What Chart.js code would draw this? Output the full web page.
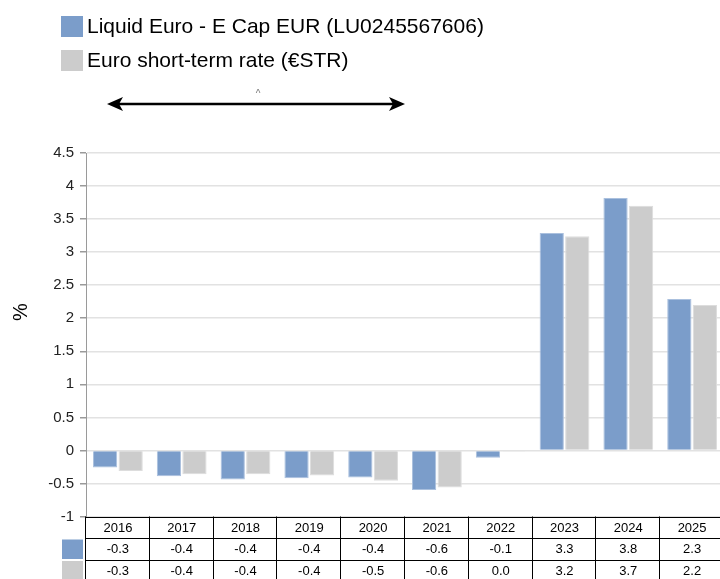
<!DOCTYPE html>
<html>
<head>
<meta charset="utf-8">
<script src="https://cdn.jsdelivr.net/npm/chart.js@4"></script>
<style>
  html, body { margin: 0; padding: 0; background: #fff; overflow: hidden; }
  #wrap { width: 724px; height: 579px; position: relative; }
</style>
</head>
<body>
<div id="wrap"><canvas id="myChart"></canvas></div>
<script>
const years = ['2016', '2017', '2018', '2019', '2020', '2021', '2022', '2023', '2024', '2025'];
const fundReturns = [-0.26, -0.39, -0.44, -0.42, -0.41, -0.60, -0.11, 3.29, 3.82, 2.29];
const estrRates = [-0.31, -0.36, -0.36, -0.38, -0.46, -0.56, -0.01, 3.24, 3.70, 2.20];
const seriesNames = ['Liquid Euro - E Cap EUR (LU0245567606)', 'Euro short-term rate (€STR)'];
const seriesColors = ['#7b9dca', '#cccccc'];
const yTicks = { min: -1, max: 4.5, step: 0.5 };
const yTitle = '%';

const FONT = '"Liberation Sans", Arial, sans-serif';

function fmt(v) {
  return (Math.round(v * 10) / 10 + 0).toFixed(1);
}

// legend, y title and the double arrow on top
const topPlugin = {
  id: 'topPlugin',
  afterDraw(chart) {
    const ctx = chart.ctx;
    ctx.save();
    chart.data.datasets.forEach((ds, i) => {
      const y = 16 + i * 34;
      ctx.fillStyle = ds.backgroundColor;
      ctx.fillRect(61, y, 22, 21);
      ctx.fillStyle = '#000';
      ctx.font = '21px ' + FONT;
      ctx.textBaseline = 'middle';
      ctx.textAlign = 'left';
      ctx.fillText(ds.label, 87, y + 11);
    });

    // y title
    ctx.save();
    ctx.translate(21, 312);
    ctx.rotate(-Math.PI / 2);
    ctx.font = '20px ' + FONT;
    ctx.textAlign = 'center';
    ctx.textBaseline = 'middle';
    ctx.fillText(yTitle, 0, 0);
    ctx.restore();

    // arrow
    ctx.strokeStyle = '#000';
    ctx.fillStyle = '#000';
    ctx.lineWidth = 2.5;
    ctx.beginPath();
    ctx.moveTo(115, 104);
    ctx.lineTo(397, 104);
    ctx.stroke();
    ctx.beginPath();
    ctx.moveTo(107, 104);
    ctx.lineTo(123, 97);
    ctx.lineTo(119, 104);
    ctx.lineTo(123, 111);
    ctx.closePath();
    ctx.fill();
    ctx.beginPath();
    ctx.moveTo(405, 104);
    ctx.lineTo(389, 97);
    ctx.lineTo(393, 104);
    ctx.lineTo(389, 111);
    ctx.closePath();
    ctx.fill();
    ctx.fillStyle = '#777';
    ctx.font = '10px ' + FONT;
    ctx.textAlign = 'center';
    ctx.fillText('^', 258, 94);
    ctx.restore();
  }
};

// data table under the plot
const tablePlugin = {
  id: 'tablePlugin',
  afterDraw(chart) {
    const ctx = chart.ctx;
    const x = chart.scales.x;
    const area = chart.chartArea;
    const n = chart.data.labels.length;
    const w = (area.right - area.left) / n;
    const rowH = 21.5;
    const top = area.bottom;
    ctx.save();
    ctx.strokeStyle = '#000';
    ctx.lineWidth = 1;
    for (let r = 0; r < 3; r++) {
      const y = Math.round(top + r * rowH) + 0.5;
      ctx.beginPath();
      ctx.moveTo(area.left, y);
      ctx.lineTo(area.right, y);
      ctx.stroke();
    }
    for (let i = 0; i <= n; i++) {
      const vx = Math.round(area.left + i * w) - 0.5;
      ctx.beginPath();
      ctx.moveTo(vx, top);
      ctx.lineTo(vx, chart.height);
      ctx.stroke();
    }
    ctx.fillStyle = '#000';
    ctx.font = '13px ' + FONT;
    ctx.textAlign = 'center';
    ctx.textBaseline = 'middle';
    chart.data.labels.forEach((lab, i) => {
      const cx = x.getPixelForValue(i);
      ctx.fillText(lab, cx, top + rowH / 2 + 1);
      chart.data.datasets.forEach((ds, d) => {
        ctx.fillText(fmt(ds.data[i]), cx, top + rowH * (d + 1) + rowH / 2 + 1);
      });
    });
    chart.data.datasets.forEach((ds, d) => {
      ctx.fillStyle = ds.backgroundColor;
      ctx.fillRect(62, top + rowH * (d + 1) + 1.5, 21, rowH - 2);
    });
    ctx.restore();
  }
};

const ctx1 = document.getElementById('myChart').getContext('2d');
const chart1 = new Chart(ctx1, {
  type: 'bar',
  data: {
    labels: years,
    datasets: [
      {
        label: seriesNames[0],
        data: fundReturns,
        backgroundColor: seriesColors[0],
        borderColor: '#aac0de',
        borderWidth: 1,
        categoryPercentage: 0.8,
        barPercentage: 0.95
      },
      {
        label: seriesNames[1],
        data: estrRates,
        backgroundColor: seriesColors[1],
        borderColor: '#dddddd',
        borderWidth: 1,
        categoryPercentage: 0.8,
        barPercentage: 0.95
      }
    ]
  },
  options: {
    responsive: true,
    maintainAspectRatio: false,
    animation: false,
    layout: { padding: { top: 153, bottom: 62.5, left: 0, right: 0 } },
    plugins: {
      legend: { display: false },
      tooltip: { enabled: false }
    },
    scales: {
      x: {
        display: false
      },
      y: {
        min: yTicks.min,
        max: yTicks.max,
        ticks: {
          stepSize: yTicks.step,
          color: '#222',
          padding: 6,
          font: { family: FONT, size: 15 },
          callback: v => String(Math.round(v * 10) / 10)
        },
        grid: {
          color: '#e2e2e2',
          lineWidth: 1.5,
          tickColor: '#9a9a9a',
          tickLength: 6
        },
        border: { color: '#9a9a9a', width: 1 },
        afterFit(scale) {
          scale.width = 86;
        }
      }
    }
  },
  plugins: [topPlugin, tablePlugin]
});
</script>
</body>
</html>
